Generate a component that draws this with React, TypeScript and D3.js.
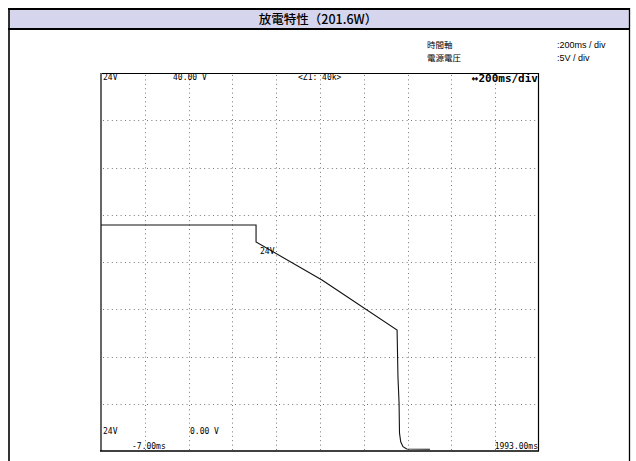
import React from "react";
import * as d3 from "d3";

const title = "放電特性（201.6W）";
const settingLabels = ["時間軸", "電源電圧"];
const settingValues = [":200ms / div", ":5V / div"];

// trace: time (ms), voltage (V)
const traceTime = [-7, 701, 701, 1002, 1345, 1349, 1354, 1356, 1361.6, 1372, 1389, 1495];
const traceVolt = [23.92, 23.92, 22.12, 18.1, 12.8, 7.83, 5.08, 1.9, 0.98, 0.455, 0.21, 0.18];

const timeDomain = [-7, 1993];
const voltDomain = [0, 40];
const timeDivCount = 10;
const voltDivCount = 8;

export default function App() {
  const W = 636, H = 461;
  const x = d3.scaleLinear().domain(timeDomain).range([101, 539]);
  const y = d3.scaleLinear().domain(voltDomain).range([451, 73]);
  const tStep = (timeDomain[1] - timeDomain[0]) / timeDivCount;
  const vStep = (voltDomain[1] - voltDomain[0]) / voltDivCount;
  const vLines = d3.range(1, timeDivCount).map((i) => timeDomain[0] + i * tStep);
  const hLines = d3.range(1, voltDivCount).map((i) => voltDomain[0] + i * vStep);
  const pts: [number, number][] = traceTime.map((t, i) => [t, traceVolt[i]]);
  const line = d3
    .line<[number, number]>()
    .x((d) => x(d[0]))
    .y((d) => y(d[1]));
  const mono = "'DejaVu Sans Mono', monospace";
  const sans = "'Liberation Sans', Arial, sans-serif";
  const cjk = "'Noto Sans CJK JP', sans-serif";
  return (
    <svg
      width={W}
      height={H}
      style={{ position: "absolute", left: 0, top: 0, background: "#fff" }}
    >
      {/* outer frame */}
      <rect x={9} y={9} width={620} height={20} fill="#d5d5ed" />
      <line x1={8} x2={630} y1={9} y2={9} stroke="#000" strokeWidth={2} />
      <line x1={8} x2={630} y1={29} y2={29} stroke="#000" strokeWidth={2} />
      <line x1={9} x2={9} y1={8} y2={H} stroke="#000" strokeWidth={1.6} />
      <line x1={629.5} x2={629.5} y1={8} y2={H} stroke="#000" strokeWidth={1.3} />
      <text
        x={318}
        y={24}
        textAnchor="middle"
        fontFamily={cjk}
        fontSize={12.5}
        fontWeight={500}
        fill="#000"
      >
        {title}
      </text>
      {settingLabels.map((s, i) => (
        <text key={s} x={427} y={48 + i * 12.5} fontFamily={cjk} fontSize={8.5} fill="#000">
          {s}
        </text>
      ))}
      {settingValues.map((s, i) => (
        <text key={s} x={557} y={48 + i * 12.5} fontFamily={sans} fontSize={9} fill="#000">
          {s}
        </text>
      ))}

      {/* grid */}
      {vLines.map((t) => (
        <line
          key={"v" + t}
          x1={Math.round(x(t)) + 0.5}
          x2={Math.round(x(t)) + 0.5}
          y1={y(voltDomain[1]) + 2}
          y2={y(voltDomain[0])}
          stroke="#777"
          strokeWidth={1}
          strokeDasharray="1,3.4"
        />
      ))}
      {hLines.map((v) => (
        <line
          key={"h" + v}
          x1={x(timeDomain[0]) + 2}
          x2={x(timeDomain[1])}
          y1={Math.round(y(v)) + 0.5}
          y2={Math.round(y(v)) + 0.5}
          stroke="#777"
          strokeWidth={1}
          strokeDasharray="1,3.4"
        />
      ))}

      {/* plot border */}
      <line x1={101} x2={539} y1={73.5} y2={73.5} stroke="#000" strokeWidth={1} />
      <line x1={538.5} x2={538.5} y1={73} y2={451} stroke="#000" strokeWidth={1.2} />
      <line x1={101} x2={101} y1={73} y2={451} stroke="#666" strokeWidth={2} />
      <line x1={100} x2={539} y1={451} y2={451} stroke="#000" strokeWidth={1.6} />

      {/* trace */}
      <path d={line(pts) || ""} fill="none" stroke="#111" strokeWidth={1.1} />

      {/* scope labels */}
      <g fontFamily={mono} fontSize={8} fill="#000">
        <text x={103} y={80}>24V</text>
        <text x={173} y={80}>40.00 V</text>
        <text x={298} y={80}>{"<Z1: 40k>"}</text>
        <text x={103} y={434}>24V</text>
        <text x={190} y={434}>0.00 V</text>
        <text x={132} y={449}>-7.00ms</text>
        <text x={538} y={449} textAnchor="end">1993.00ms</text>
        <text x={260} y={254}>24V</text>
      </g>
      <text
        x={538}
        y={82}
        textAnchor="end"
        fontFamily={mono}
        fontSize={11}
        fontWeight="bold"
        fill="#000"
      >
        ↔200ms/div
      </text>
    </svg>
  );
}
